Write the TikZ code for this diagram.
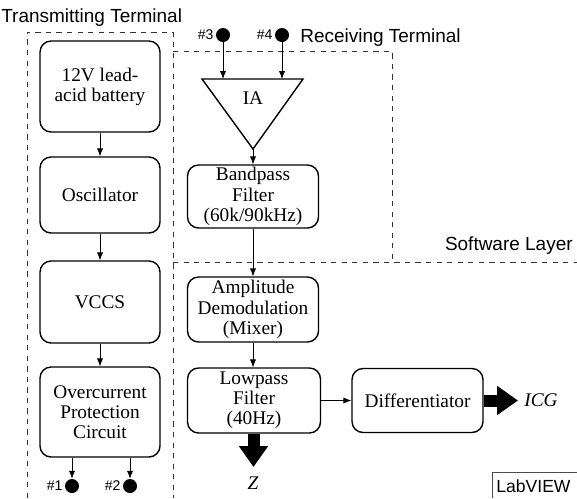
\documentclass[tikz,border=0pt]{standalone}
\usepackage{fontspec}
\setmainfont{Liberation Serif}
\newfontfamily\labelfont{Liberation Sans}
\usetikzlibrary{arrows.meta}

\tikzset{
  block/.style={draw, line width=0.8pt, rounded corners=0.22cm, align=center, inner sep=1pt,
    font=\fontsize{11}{11.5}\selectfont},
  conn/.style={-{Latex[length=4.5pt,width=3.5pt]}, line width=0.4pt},
  fat/.style={-{Triangle[length=0.42cm,width=0.56cm]}, line width=0.24cm},
  dot/.style={circle, fill=black, minimum size=0.28cm, inner sep=0pt},
  zone/.style={dashed, line width=0.5pt, black!80},
  pin/.style={font=\labelfont\fontsize{8}{8}\selectfont, inner sep=1pt},
  tag/.style={font=\labelfont\fontsize{10.8}{11}\selectfont, inner sep=0pt}
}

\begin{document}
\begin{tikzpicture}[x=0.02cm, y=-0.02cm]
\useasboundingbox (0, 0) rectangle (577, 498);

% dashed zones
\draw [zone] (27, 498) -- (27, 32) -- (173, 32) -- (173, 498);
\draw [zone] (173, 51) -- (392, 51) -- (392, 262);
\draw [zone] (173, 262) -- (577, 262);
\draw [line width=0.4pt, black!70] (492, 498) -- (492, 472) -- (577, 472);

\node [tag, anchor=west] (txlabel) at (1, 18) {Transmitting Terminal};
\node [tag, anchor=west] (rxlabel) at (300, 38) {Receiving Terminal};
\node [tag, anchor=east] (swlabel) at (573, 246) {Software Layer};
\node [tag, anchor=west, font=\labelfont\fontsize{10}{10}\selectfont] (lvlabel) at (496, 486) {LabVIEW};

% transmitting terminal
\node [block, minimum width=2.4cm, minimum height=1.82cm] (batt) at (100, 86.5) {12V lead-\\acid battery};
\node [block, minimum width=2.4cm, minimum height=1.52cm] (osc) at (100, 195) {Oscillator};
\node [block, minimum width=2.4cm, minimum height=1.64cm] (vccs) at (100, 302) {VCCS};
\node [block, minimum width=2.4cm, minimum height=1.8cm] (ocp) at (100, 412) {Overcurrent\\Protection\\Circuit};
\node [dot, label={[pin]left:\#1}] (e1) at (72, 486) {};
\node [dot, label={[pin]left:\#2}] (e2) at (130, 486) {};

\draw [conn] (batt) -- (osc);
\draw [conn] (osc) -- (vccs);
\draw [conn] (vccs) -- (ocp);
\draw [conn] (ocp.south -| e1) -- (e1.north);
\draw [conn] (ocp.south -| e2) -- (e2.north);

% receiving terminal
\node [dot, label={[pin]left:\#3}] (e3) at (223, 35) {};
\node [dot, label={[pin]left:\#4}] (e4) at (282, 35) {};
\coordinate (ial) at (202, 79);
\coordinate (iar) at (303, 79);
\coordinate (iao) at (253, 149);
\draw [line width=0.8pt, line join=miter] (ial) -- (iar) -- (iao) -- cycle;
\node [font=\fontsize{11}{11}\selectfont] (ia) at (253, 98) {IA};
\draw [conn] (e3.south) -- (e3 |- ial);
\draw [conn] (e4.south) -- (e4 |- ial);

\node [block, minimum width=2.62cm, minimum height=1.26cm] (bpf) at (253, 196.5) {Bandpass\\Filter\\(60k/90kHz)};
\draw [conn] (iao) -- (bpf);

% software layer
\node [block, minimum width=2.62cm, minimum height=1.3cm] (demod) at (253, 309.5) {Amplitude\\Demodulation\\(Mixer)};
\node [block, minimum width=2.66cm, minimum height=1.3cm] (lpf) at (254, 400.5) {Lowpass\\Filter\\(40Hz)};
\node [block, minimum width=2.62cm, minimum height=1.28cm] (diff) at (417.5, 400.5) {Differentiator};
\draw [conn] (bpf) -- (demod);
\draw [conn] (demod.south) -- (demod.south |- lpf.north);
\draw [conn] (lpf) -- (diff);

\node [font=\itshape\fontsize{11}{11}\selectfont] (icg) at (541, 400) {ICG};
\node [font=\itshape\fontsize{11}{11}\selectfont] (zout) at (253, 483) {Z};
\coordinate (icgtip) at (518, 400.5);
\coordinate (ztip) at (253.5, 467);
\draw [fat] (diff.east) -- (icgtip);
\draw [fat] (lpf.south -| ztip) -- (ztip);
\end{tikzpicture}
\end{document}
